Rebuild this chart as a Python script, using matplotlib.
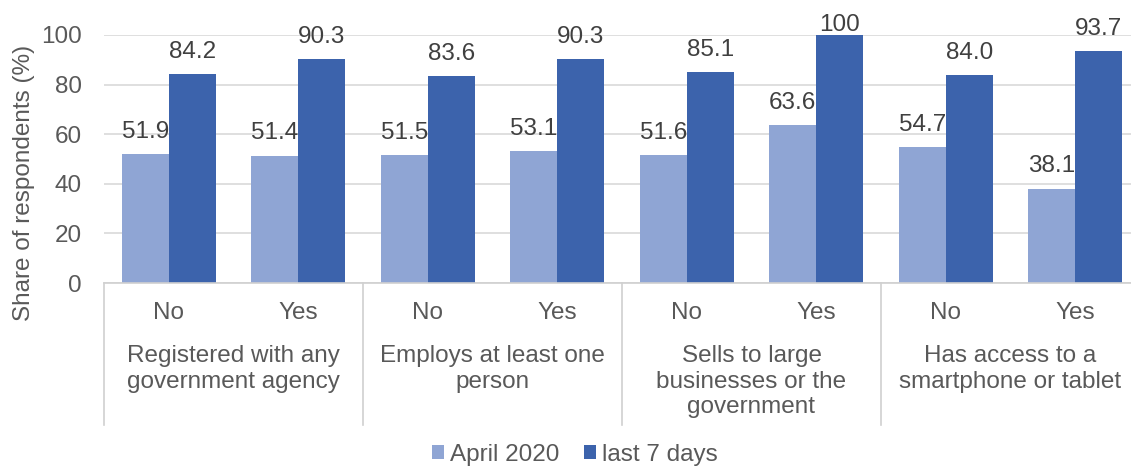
import numpy as np
import matplotlib
matplotlib.use("Agg")
import matplotlib.pyplot as plt

# data
groups = [
    "Registered with any\ngovernment agency",
    "Employs at least one\nperson",
    "Sells to large\nbusinesses or the\ngovernment",
    "Has access to a\nsmartphone or tablet",
]
answers = ["No", "Yes"] * 4
april_2020 = [51.9, 51.4, 51.5, 53.1, 51.6, 63.6, 54.7, 38.1]
last_7_days = [84.2, 90.3, 83.6, 90.3, 85.1, 100, 84.0, 93.7]
april_labels = ["51.9", "51.4", "51.5", "53.1", "51.6", "63.6", "54.7", "38.1"]
last_labels = ["84.2", "90.3", "83.6", "90.3", "85.1", "100", "84.0", "93.7"]

light = "#8FA5D4"
dark = "#3C63AC"
text_col = "#595959"
line_col = "#D0D0D0"
fs = 17.5

plt.rcParams["font.family"] = ["Liberation Sans", "DejaVu Sans"]
plt.rcParams["font.size"] = fs

fig = plt.figure(figsize=(11.31, 4.69), dpi=100)
ax = fig.add_axes([104 / 1131, 186 / 469, 1036 / 1131, 248 / 469])

x = np.arange(len(answers))
w = 0.363
b1 = ax.bar(x - w / 2, april_2020, width=w, color=light, zorder=2, label="April 2020")
b2 = ax.bar(x + w / 2, last_7_days, width=w, color=dark, zorder=2, label="last 7 days")

for bars, labels in [(b1, april_labels), (b2, last_labels)]:
    for rect, lab in zip(bars, labels):
        h = rect.get_height()
        # labels at the top of the plot area get pushed down (like Excel does)
        off = 8 if h < 95 else -1
        ax.annotate(lab, (rect.get_x() + rect.get_width() / 2, h),
                    xytext=(0, off), textcoords="offset points",
                    ha="center", va="bottom", color="#404040", fontsize=fs,
                    zorder=3, annotation_clip=False)

ax.set_xlim(-0.5, 7.5)
ax.set_ylim(0, 100)
ax.set_yticks(range(0, 101, 20))
ax.grid(axis="y", color="#D9D9D9", linewidth=1.2, zorder=1)
ax.set_xticks(x)
ax.set_xticklabels(answers)
ax.tick_params(axis="both", length=0, colors=text_col, labelsize=fs)
ax.tick_params(axis="x", pad=14)
ax.tick_params(axis="y", pad=16)

for spine in ["top", "left", "right"]:
    ax.spines[spine].set_visible(False)
ax.spines["bottom"].set_color(line_col)
ax.spines["bottom"].set_linewidth(1.2)

trans = ax.get_xaxis_transform()
for sx in [-0.5, 1.5, 3.5, 5.5, 7.5]:
    ax.plot([sx, sx], [0, -0.5726], transform=trans, color=line_col,
            linewidth=1.2, clip_on=False)
for i, g in enumerate(groups):
    ax.text(2 * i + 0.5, -0.252, g, transform=trans, ha="center", va="top",
            color=text_col, fontsize=fs, linespacing=1.18)

ax.set_ylabel("Share of respondents (%)", color=text_col, fontsize=fs)
ax.yaxis.set_label_coords(-0.067, 0.403)

fig.legend(handles=[b1, b2], loc="lower center", bbox_to_anchor=(0.508, -0.04),
           ncol=2, frameon=False, handlelength=0.5, handleheight=0.5,
           handletextpad=0.25, columnspacing=1.0, labelcolor=text_col, fontsize=fs)

fig.savefig("out.png", dpi=100)
